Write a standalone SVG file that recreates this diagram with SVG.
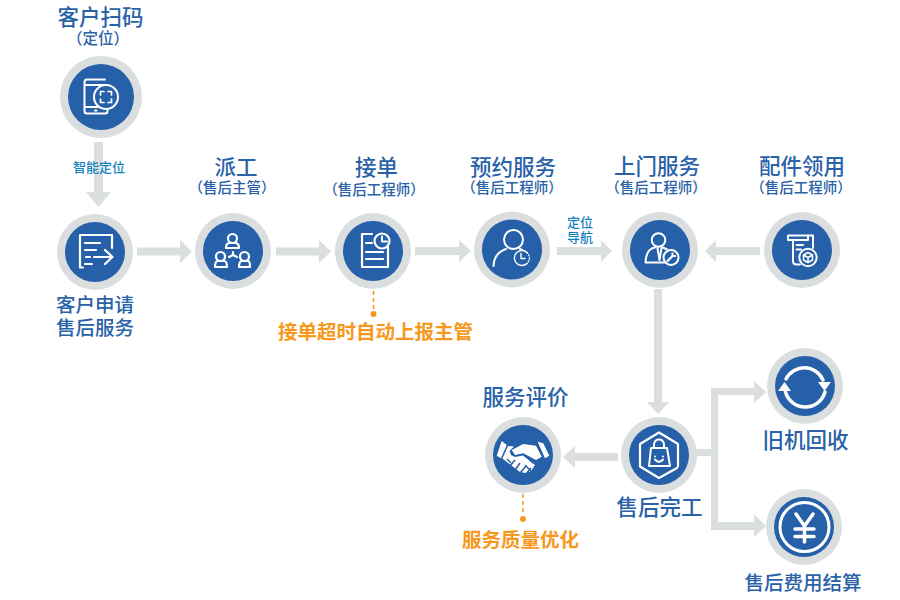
<svg xmlns="http://www.w3.org/2000/svg" width="900" height="600" viewBox="0 0 900 600">
<style>
text{font-family:"Noto Sans CJK SC","Noto Sans",sans-serif;text-anchor:middle;font-weight:500}
.t{font-size:21.500px;fill:#2a62a8}
.t2{font-size:19.500px;fill:#2a62a8}
.s{font-size:14.500px;fill:#2a62a8}
.m{font-size:13px;fill:#1481bd}
.o{font-size:19.500px;fill:#f7981d;font-weight:700}
.a{fill:#dadedf}
.r{fill:#dadedf}
.b{fill:#2660a8}
.i{fill:none;stroke:#fff;stroke-width:2;stroke-linecap:round;stroke-linejoin:round}
.ib{fill:none;stroke:#fff;stroke-width:3.500;stroke-linecap:round;stroke-linejoin:round}
.w{fill:#fff}
.d{stroke:#f7981d;stroke-width:1.500;stroke-dasharray:4 3;fill:none}
.c{fill:#f7981d}
</style>
<g id="connectors">
<polygon class="a" points="94,142 103,142 103,192 111,192 98.500,207 86,192 94,192"/>
<polygon class="a" points="137,247.500 180,247.500 180,240 192,251.500 180,263 180,255.500 137,255.500"/>
<polygon class="a" points="276,247.500 319,247.500 319,240 331,251.500 319,263 319,255.500 276,255.500"/>
<polygon class="a" points="415,247 459,247 459,240 471,251 459,262 459,255 415,255"/>
<polygon class="a" points="557,247 601,247 601,240 612,251 601,262 601,255 557,255"/>
<polygon class="a" points="760,247 716,247 716,240 705,251 716,262 716,255 760,255"/>
<polygon class="a" points="654,289 662,289 662,402 669,402 658,414 647,402 654,402"/>
<polygon class="a" points="618,453 575,453 575,446 563,457 575,468 575,461 618,461"/>
<polygon class="a" points="697,449 711,449 711,388 754,388 754,381 766,392 754,403 754,395 718,395 718,522 754,522 754,514 766,526 754,537 754,530 711,530 711,456 697,456"/>
<path class="d" d="M373.500 291V310"/><circle class="c" cx="373.500" cy="314" r="3"/>
<path class="d" d="M523 494V515"/><circle class="c" cx="523" cy="519" r="3"/>
</g>
<g id="n-scan">
<circle class="r" cx="101" cy="97" r="41"/><circle class="b" cx="101" cy="97" r="33"/>
<path class="i" d="M105 79.500H87Q84.500 79.500 84.500 82V111Q84.500 113.500 87 113.500H105Q107.500 113.500 107.500 111V108M84.500 85H107M84.500 107H100M95 110.500H96.500"/>
<circle class="b" cx="106" cy="97" r="12"/><circle class="i" cx="106" cy="97" r="12"/>
<path class="i" style="stroke-width:1.700" d="M100.500 95V91.500H104M108 91.500H111.500V95M111.500 99V102.500H108M104 102.500H100.500V99"/>
<text class="t" x="100.500" y="25">客户扫码</text><text class="s" style="font-size:15.500px" x="98" y="44">（定位）</text>
<text class="m" x="99" y="172">智能定位</text>
</g>
<g id="n-apply">
<circle class="r" cx="95" cy="252" r="38"/><circle class="b" cx="95" cy="252" r="30"/>
<path class="ib" style="stroke-width:2.200" d="M80 258V267.500H83M112 248V235H80V262M85 243H100M85 250H96M86 257H90M94 257H112M105 250L112.500 257L105 264M85 264H92"/>
<text class="t2" x="95" y="312">客户申请</text><text class="t2" x="95" y="335">售后服务</text>
</g>
<g id="n-dispatch">
<circle class="r" cx="233" cy="251" r="38"/><circle class="b" cx="233" cy="251" r="30"/>
<g class="i" style="stroke-width:2.200"><circle cx="232.500" cy="238.500" r="4.500"/><path d="M226 248Q226 243.500 229 243H236Q239 243.500 239 248Z"/>
<circle cx="220.500" cy="256.500" r="4.500"/><path d="M215 267Q215 261 218 261H224Q227 261 227 267Z"/>
<circle cx="244.500" cy="256.500" r="4.500"/><path d="M239 267Q239 261 242 261H248Q250 261 250 267Z"/>
<path d="M233 252V255M233 255L229 257M233 255L237 257"/></g>
<text class="t" x="236" y="175">派工</text><text class="s" x="232" y="193">（售后主管）</text>
</g>
<g id="n-accept">
<circle class="r" cx="373" cy="251" r="38"/><circle class="b" cx="373" cy="251" r="30"/>
<path class="i" style="stroke-width:2.200" d="M372 234H362V267H388V247M366 243H372M366 252H383M366 259H383"/>
<circle class="i" style="stroke-width:2.200" cx="382" cy="241" r="7.500"/><path class="i" d="M382 236.500V241.500H387"/>
<text class="t" x="376.500" y="175">接单</text><text class="s" x="374" y="195">（售后工程师）</text>
<text class="o" x="375.500" y="339">接单超时自动上报主管</text>
</g>
<g id="n-appointment">
<circle class="r" cx="512" cy="249.500" r="38"/><circle class="b" cx="512" cy="249.500" r="30"/>
<circle class="i" cx="513.500" cy="239.500" r="9.500"/><path class="i" d="M493.500 266Q494 253 506 249M520 249Q524 251 526 253"/>
<circle class="b" cx="521" cy="258" r="8"/><path class="i" style="stroke-width:1.400" d="M527 252.500A7.500 7.500 0 1 0 527 263.500M521 253.500V258.500H525"/>
<path class="i" style="stroke-width:1.400;stroke-dasharray:1 2" d="M527 252.500A7.500 7.500 0 0 1 527 263.500"/>
<text class="t" x="513" y="175">预约服务</text><text class="s" x="512" y="193">（售后工程师）</text>
<text class="m" x="580" y="227">定位</text><text class="m" x="580" y="242">导航</text>
</g>
<g id="n-door">
<circle class="r" cx="660" cy="250" r="38"/><circle class="b" cx="660" cy="250" r="30"/>
<circle class="i" cx="658.500" cy="240" r="6.800"/>
<path class="i" d="M655 247.500Q646 249 645.500 262.500H665M663 247.500L668 250M657.500 248L659.500 260L661.500 248"/>
<circle class="b" cx="671" cy="257.500" r="8.500"/><circle class="i" cx="671" cy="257.500" r="7.500"/>
<path class="i" style="stroke-width:2.200" d="M667.500 261L672.500 256M672.500 256L672.500 253.500M672.500 256L675 256"/>
<text class="t" x="657" y="174">上门服务</text><text class="s" x="656" y="193">（售后工程师）</text>
</g>
<g id="n-parts">
<circle class="r" cx="802" cy="250" r="38"/><circle class="b" cx="802" cy="250" r="30"/>
<path class="i" d="M788 235.500H813V248M788 235.500V240H808V236M793 240V261Q793 264.500 797 264.500H800M796.500 245H803M796.500 249.500H801"/>
<circle class="i" cx="808" cy="257.500" r="8.700"/>
<path class="i" style="stroke-width:1.500" d="M808 252.500L812.500 255V260L808 262.500L803.500 260V255ZM803.500 255L808 257.500L812.500 255M808 257.500V262.500"/>
<text class="t" x="802" y="174">配件领用</text><text class="s" x="801" y="193">（售后工程师）</text>
</g>
<g id="n-finish">
<circle class="r" cx="659" cy="455" r="38"/><circle class="b" cx="659" cy="455" r="30"/>
<path class="i" style="stroke-width:2.200" d="M678 466.500V444L659 432.500L640 444V466.500L659 478L677 468"/>
<path class="i" d="M651 448H667L670 466H649ZM654 448V444Q655 439.500 659 439.500Q663 439.500 664 444V448M655 456.500V456.500M663 456.500V456.500M655 459.500Q659 464 663 459.500"/>
<text class="t" x="659.500" y="515">售后完工</text>
</g>
<g id="n-review">
<circle class="r" cx="523" cy="455" r="38"/><circle class="b" cx="523" cy="455" r="30"/>
<polygon class="w" points="501.700,441 506.700,445 501,458.300 496.700,455.700"/>
<polygon class="w" points="537.700,441.700 543.300,443.300 549.300,455.700 545,458.300"/>
<path class="w" d="M511.700 450L523.300 444L536 445.700L541.700 456.700L536 460L523.300 453.300L515 455Z"/>
<path class="w" d="M508 446L514 446.500L509.500 451L511 455L515 457L523 455.500L535 465L531 471L526 473L520 472L512 466L502.500 458.500Z"/>
<path fill="none" stroke="#2660a8" stroke-width="1.500" d="M507 459L511 463M510 466L515 460M515 470L520 463M520 473L526 466M526 474L531 468M533 463L527 457M531 471L525 465"/>
<text class="t" x="525.500" y="405">服务评价</text>
<text class="o" x="520.500" y="547">服务质量优化</text>
</g>
<g id="n-recycle">
<circle class="r" cx="805" cy="386" r="38"/><circle class="b" cx="805" cy="386" r="30"/>
<path class="ib" d="M786 379A20.500 20.500 0 0 1 823 380"/><path class="ib" d="M825 392A20.500 20.500 0 0 1 785.500 392"/>
<polygon class="w" points="818,382 831,382 824.500,391"/><polygon class="w" points="778,391 791,391 784.500,382"/>
<text class="t" x="805.500" y="448">旧机回收</text>
</g>
<g id="n-settle">
<circle class="r" cx="804" cy="527" r="38"/><circle class="b" cx="804" cy="527" r="30"/>
<circle class="i" style="stroke-width:3" cx="804.500" cy="527" r="24.500"/>
<path class="ib" d="M796 514L804.500 526L813 514M795 529H814M795 536.500H814M804.500 526V542"/>
<text class="t2" x="803" y="590">售后费用结算</text>
</g>
</svg>
